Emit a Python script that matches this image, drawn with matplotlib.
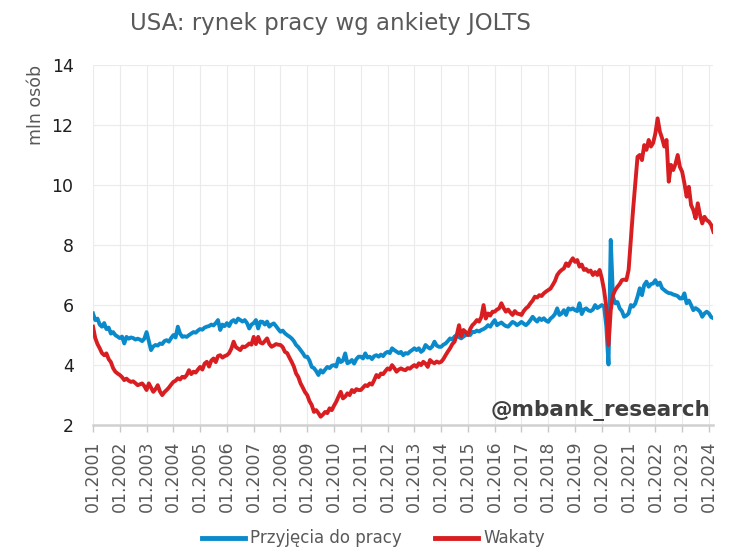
import matplotlib.pyplot as plt
import numpy as np

# monthly data, 01.2001 - 03.2024, mln
hires = [
    5.72, 5.50, 5.55, 5.35, 5.28, 5.40, 5.20, 5.25, 5.05, 5.10, 5.00, 4.95,
    4.90, 4.95, 4.72, 4.94, 4.88, 4.92, 4.90, 4.85, 4.88, 4.85, 4.80, 4.88,
    5.10, 4.80, 4.50, 4.62, 4.67, 4.65, 4.72, 4.70, 4.80, 4.83, 4.78, 4.90,
    5.00, 4.92, 5.28, 5.05, 4.94, 4.96, 4.94, 5.00, 5.05, 5.10, 5.08, 5.15,
    5.20, 5.18, 5.25, 5.28, 5.30, 5.35, 5.32, 5.40, 5.50, 5.17, 5.35, 5.30,
    5.40, 5.30, 5.45, 5.50, 5.42, 5.55, 5.50, 5.45, 5.50, 5.40, 5.22, 5.35,
    5.40, 5.50, 5.22, 5.45, 5.44, 5.35, 5.45, 5.28, 5.35, 5.39, 5.30, 5.20,
    5.11, 5.15, 5.06, 5.00, 4.95, 4.89, 4.80, 4.67, 4.60, 4.50, 4.40, 4.28,
    4.28, 4.15, 3.94, 3.90, 3.80, 3.67, 3.83, 3.75, 3.85, 3.94, 3.90, 3.98,
    4.00, 3.95, 4.22, 4.10, 4.15, 4.39, 4.06, 4.10, 4.17, 4.05, 4.20, 4.28,
    4.28, 4.22, 4.39, 4.25, 4.28, 4.20, 4.30, 4.33, 4.28, 4.35, 4.30, 4.40,
    4.44, 4.40, 4.56, 4.50, 4.45, 4.40, 4.44, 4.33, 4.40, 4.38, 4.45, 4.50,
    4.56, 4.50, 4.56, 4.44, 4.50, 4.67, 4.60, 4.55, 4.62, 4.78, 4.65, 4.61,
    4.61, 4.68, 4.72, 4.80, 4.89, 4.85, 4.95, 5.00, 4.93, 4.89, 4.95, 5.00,
    5.06, 5.00, 5.11, 5.10, 5.15, 5.12, 5.17, 5.20, 5.25, 5.33, 5.28, 5.40,
    5.50, 5.33, 5.38, 5.42, 5.35, 5.30, 5.28, 5.36, 5.44, 5.40, 5.33, 5.38,
    5.44, 5.38, 5.33, 5.40, 5.50, 5.61, 5.52, 5.45, 5.56, 5.50, 5.56, 5.48,
    5.44, 5.55, 5.61, 5.70, 5.89, 5.67, 5.72, 5.83, 5.67, 5.89, 5.85, 5.89,
    5.83, 5.80, 6.06, 5.70, 5.85, 5.89, 5.82, 5.80, 5.85, 6.00, 5.90, 5.95,
    6.00, 5.95, 5.30, 4.02, 8.17, 6.28, 6.06, 6.10, 5.89, 5.80, 5.61, 5.65,
    5.72, 6.00, 5.95, 6.05, 6.28, 6.56, 6.33, 6.67, 6.78, 6.61, 6.70, 6.72,
    6.83, 6.67, 6.75, 6.56, 6.50, 6.44, 6.40, 6.39, 6.35, 6.33, 6.30, 6.22,
    6.22, 6.39, 6.06, 6.15, 6.00, 5.83, 5.90, 5.85, 5.78, 5.61, 5.72, 5.78,
    5.72, 5.60, 5.56,
]

openings = [
    5.28, 4.90, 4.70, 4.56, 4.40, 4.33, 4.39, 4.20, 4.10, 3.90, 3.78, 3.72,
    3.67, 3.60, 3.50, 3.55, 3.48, 3.44, 3.46, 3.40, 3.33, 3.36, 3.39, 3.30,
    3.17, 3.39, 3.25, 3.11, 3.20, 3.33, 3.12, 3.00, 3.10, 3.17, 3.25, 3.35,
    3.44, 3.48, 3.56, 3.52, 3.61, 3.58, 3.67, 3.83, 3.70, 3.78, 3.75, 3.85,
    3.94, 3.85, 4.05, 4.11, 3.95, 4.15, 4.22, 4.10, 4.30, 4.33, 4.25, 4.30,
    4.33, 4.40, 4.55, 4.78, 4.60, 4.55, 4.50, 4.62, 4.60, 4.65, 4.72, 4.68,
    4.94, 4.70, 4.94, 4.75, 4.72, 4.80, 4.89, 4.70, 4.61, 4.65, 4.70, 4.68,
    4.67, 4.60, 4.44, 4.40, 4.25, 4.11, 3.95, 3.72, 3.60, 3.39, 3.25, 3.10,
    3.00, 2.80, 2.67, 2.44, 2.50, 2.40, 2.28, 2.35, 2.44, 2.40, 2.56, 2.50,
    2.65, 2.78, 2.95, 3.11, 2.89, 2.95, 3.06, 3.00, 3.17, 3.10, 3.20, 3.17,
    3.17, 3.25, 3.33, 3.30, 3.39, 3.35, 3.50, 3.67, 3.60, 3.72, 3.70, 3.80,
    3.89, 3.85, 4.00, 3.90, 3.78, 3.85, 3.89, 3.85, 3.83, 3.90, 3.88, 3.95,
    4.00, 3.94, 4.06, 4.00, 4.11, 4.05, 3.94, 4.17, 4.10, 4.06, 4.12, 4.08,
    4.11, 4.20, 4.33, 4.45, 4.56, 4.70, 4.78, 5.00, 5.33, 4.95, 5.17, 5.10,
    5.00, 5.20, 5.33, 5.40, 5.50, 5.45, 5.60, 6.00, 5.55, 5.72, 5.65, 5.78,
    5.78, 5.85, 5.89, 6.06, 5.90, 5.78, 5.85, 5.75, 5.67, 5.80, 5.72, 5.70,
    5.67, 5.80, 5.89, 5.95, 6.06, 6.15, 6.28, 6.25, 6.33, 6.30, 6.39, 6.45,
    6.50, 6.55, 6.67, 6.80, 7.00, 7.10, 7.17, 7.22, 7.39, 7.30, 7.45, 7.56,
    7.44, 7.50, 7.28, 7.35, 7.17, 7.20, 7.11, 7.15, 7.00, 7.10, 7.00, 7.17,
    6.89, 6.50, 5.94, 4.67, 5.83, 6.33, 6.50, 6.61, 6.70, 6.83, 6.85, 6.83,
    7.17, 8.17, 9.17, 10.06, 10.94, 11.00, 10.83, 11.33, 11.17, 11.50, 11.28, 11.40,
    11.72, 12.22, 11.78, 11.56, 11.28, 11.50, 10.11, 10.67, 10.50, 10.70, 11.00, 10.60,
    10.44, 10.06, 9.61, 9.94, 9.33, 9.17, 8.89, 9.39, 9.00, 8.72, 8.94, 8.83,
    8.78, 8.67, 8.44,
]

years = list(range(2001, 2025))
tick_labels = ['01.%d' % y for y in years]

blue = '#0a8acb'
red = '#d91e21'
grey = '#595959'

x = np.arange(len(hires))

fig = plt.figure(figsize=(7.29, 5.55), dpi=100)
ax = fig.add_axes([0.1276, 0.234, 0.851, 0.649])

ax.plot(x, hires, color=blue, lw=2.8, label='Przyjęcia do pracy', solid_joinstyle='round')
ax.plot(x, openings, color=red, lw=2.8, label='Wakaty', solid_joinstyle='round')

ax.set_xlim(0, len(hires) - 1)
ax.set_ylim(2, 14)
ax.set_yticks(range(2, 15, 2))
ax.set_xticks([12 * i for i in range(len(years))])
ax.set_xticklabels(tick_labels, rotation=90, color=grey, fontsize=12.5)
ax.tick_params(axis='y', length=0, pad=14, labelsize=12.5, labelcolor='#1f1f1f')
ax.tick_params(axis='x', length=5, width=1, color='#c8c8c8', pad=6)

ax.grid(True, color='#ebebeb', lw=0.8)
ax.set_axisbelow(True)
for s in ['top', 'right', 'left']:
    ax.spines[s].set_visible(False)
ax.spines['bottom'].set_color('#d0d0d0')
ax.spines['bottom'].set_linewidth(1.8)

ax.set_ylabel('mln osób', color=grey, fontsize=12.5, labelpad=10)
ax.yaxis.set_label_coords(-0.078, 0.89)

fig.text(0.453, 0.958, 'USA: rynek pracy wg ankiety JOLTS', ha='center', va='center',
         fontsize=16.5, color=grey)
ax.text(0.995, 0.04, '@mbank_research', transform=ax.transAxes, ha='right', va='center',
        fontsize=15.5, fontweight='bold', color='#3f3f3f')

leg = fig.legend(loc='center', bbox_to_anchor=(0.512, 0.03), ncol=2, frameon=False,
                 fontsize=12, handlelength=2.6, columnspacing=2.0, handletextpad=0.3)
for t in leg.get_texts():
    t.set_color(grey)
for l in leg.get_lines():
    l.set_linewidth(3.5)

fig.savefig('out.png', dpi=100)
